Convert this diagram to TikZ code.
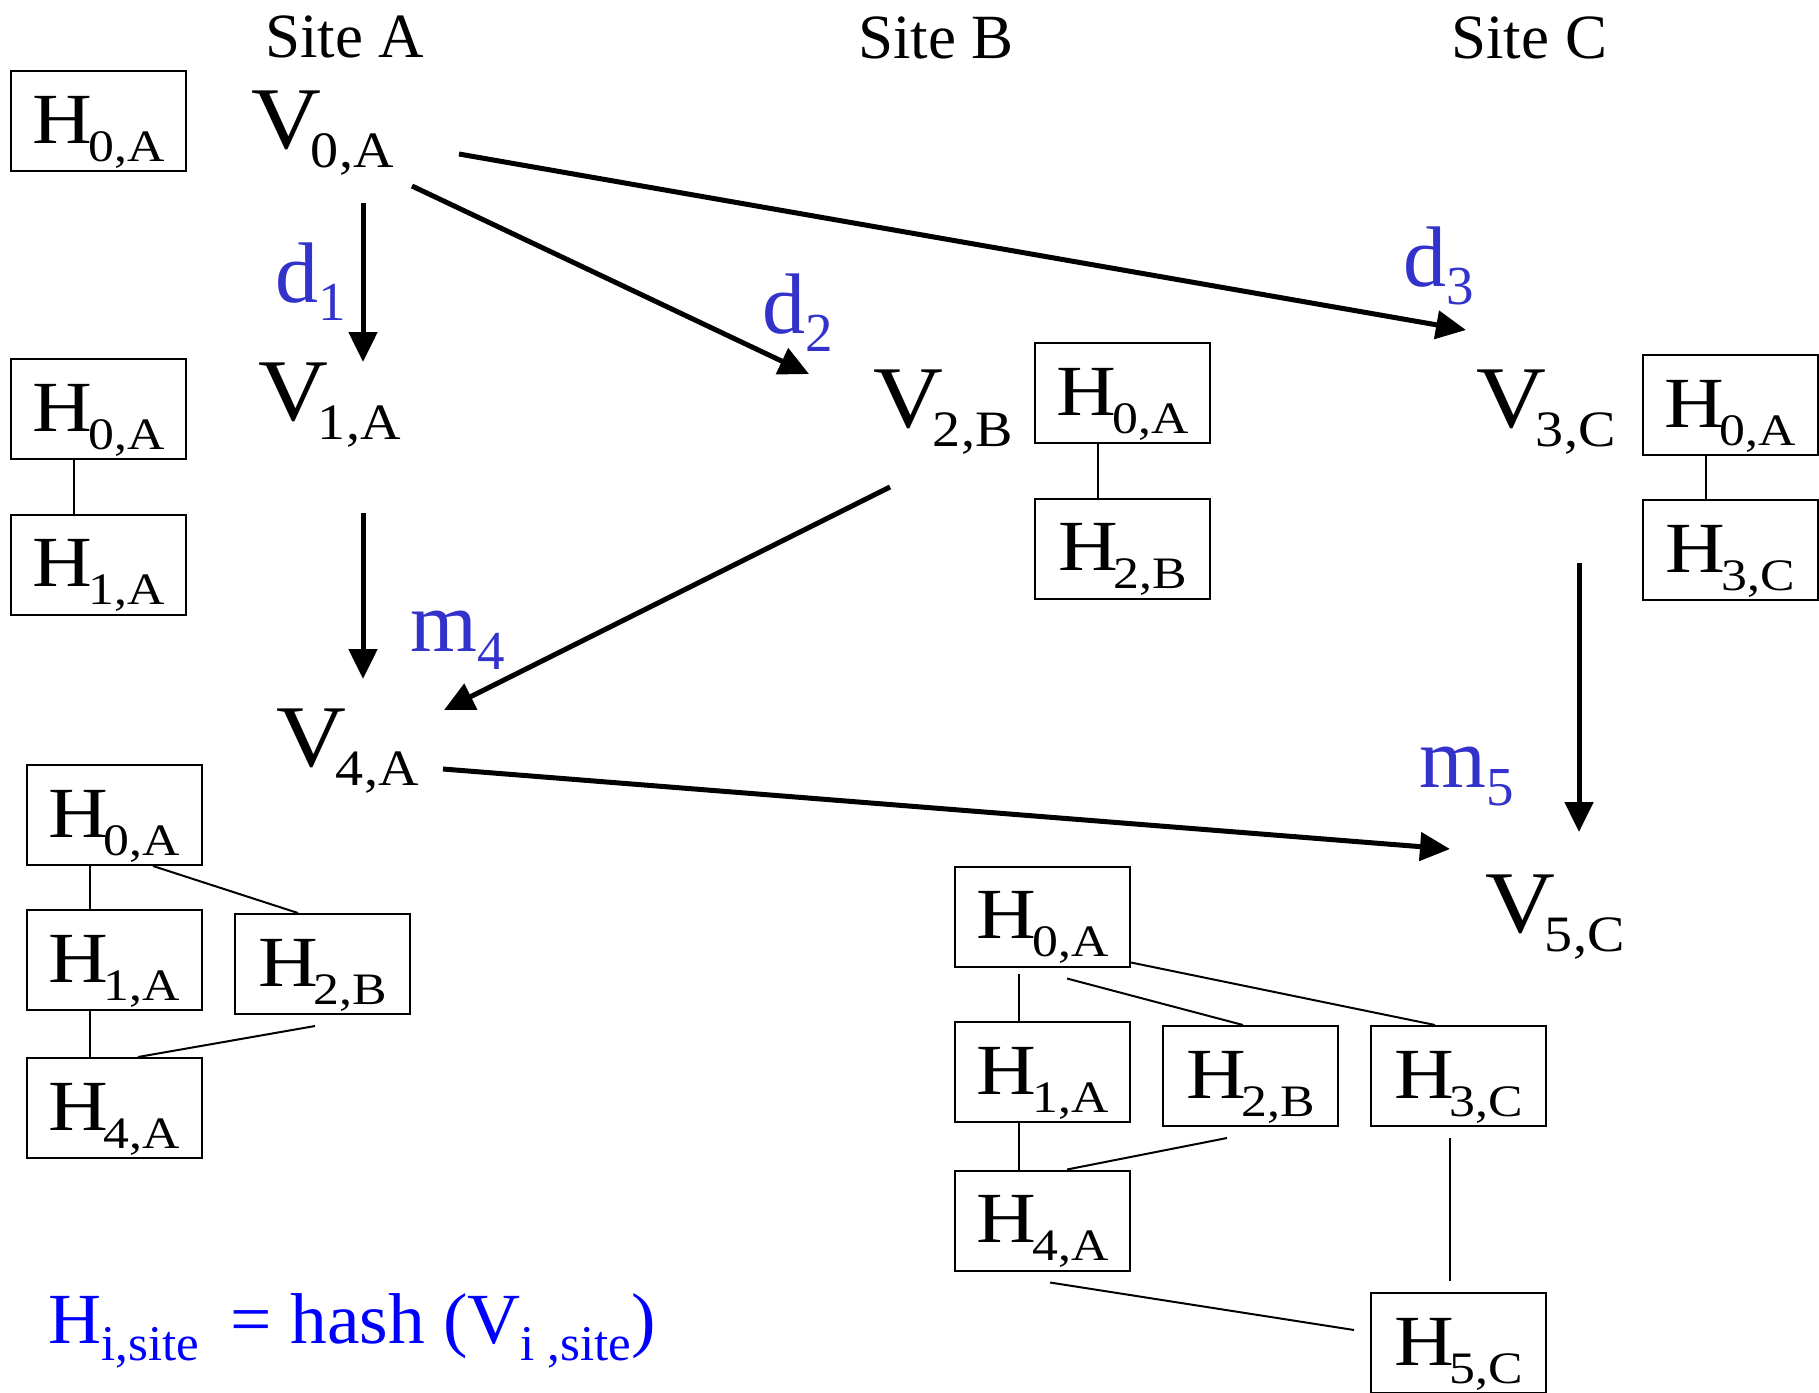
\documentclass[tikz,border=0pt]{standalone}
\usepackage{fontspec}
\setmainfont{Liberation Serif}
\usetikzlibrary{arrows.meta}
\definecolor{lblue}{RGB}{51,51,204}
\definecolor{fblue}{RGB}{0,0,255}
\newcommand\Vtxt[2]{\scalebox{1.1}[1]{#1\kern-0.11em\raisebox{-0.227em}{\fontsize{51}{51}\selectfont #2}}}
\newcommand\Htxt[1]{\scalebox{1.15}[1]{H\kern-0.05em\raisebox{-0.25em}{\fontsize{45}{45}\selectfont #1}}}
\newcommand\Btxt[2]{#1\raisebox{-0.22em}{\fontsize{55}{55}\selectfont #2}}
\begin{document}
\begin{tikzpicture}[x=1pt,y=-1pt,
 vlab/.style={anchor=base west, inner sep=0pt, font=\fontsize{88}{88}\selectfont},
 blab/.style={anchor=base west, inner sep=0pt, text=lblue, font=\fontsize{86}{86}\selectfont},
 site/.style={anchor=base west, inner sep=0pt, font=\fontsize{63}{63}\selectfont},
 hbox/.style={draw, line width=2pt, minimum width=175pt, minimum height=100pt, inner sep=0pt, text height=56pt, text depth=12pt, font=\fontsize{72}{72}\selectfont},
 conn/.style={line width=2pt},
 arr/.style={line width=5pt, -{Triangle[length=30pt,width=28pt]}},
]
\useasboundingbox (0,0) rectangle (1819,1392);

% site headers
\node[site] (sa) at (265,57) {Site A};
\node[site] (sb) at (858,58) {Site B};
\node[site] (sc) at (1451,58) {Site C};

% version nodes
\node[vlab] (v0) at (251.5,148) {\Vtxt{V}{0,A}};
\node[vlab] (v1) at (258.5,420) {\Vtxt{V}{1,A}};
\node[vlab] (v2) at (873.5,427) {\Vtxt{V}{2,B}};
\node[vlab] (v3) at (1476.5,427) {\Vtxt{V}{3,C}};
\node[vlab] (v4) at (276.5,766) {\Vtxt{V}{4,A}};
\node[vlab] (v5) at (1485.5,932) {\Vtxt{V}{5,C}};

% blue labels
\node[blab] (d1) at (275.6,302) {\Btxt{d}{1}};
\node[blab] (d2) at (762.6,333) {\Btxt{d}{2}};
\node[blab] (d3) at (1403.6,286) {\Btxt{d}{3}};
\node[blab] (m4) at (410.6,651) {\Btxt{m}{4}};
\node[blab] (m5) at (1419.6,787) {\Btxt{m}{5}};

% arrows
\draw[arr] ([shift={(111.5,55)}]v0.base west) -- ([shift={(104.5,-58)}]v1.base west);
\draw[arr] ([shift={(160.5,38)}]v0.base west) -- ([shift={(-64.5,-53)}]v2.base west);
\draw[arr] ([shift={(207.5,6)}]v0.base west) -- ([shift={(-10.5,-97)}]v3.base west);
\draw[arr] ([shift={(104.5,93)}]v1.base west) -- ([shift={(86.5,-87)}]v4.base west);
\draw[arr] ([shift={(16.5,60)}]v2.base west) -- ([shift={(167.5,-56)}]v4.base west);
\draw[arr] ([shift={(166.5,3)}]v4.base west) -- ([shift={(-35.5,-83)}]v5.base west);
\draw[arr] ([shift={(102.5,136)}]v3.base west) -- ([shift={(93.5,-100)}]v5.base west);

% hash boxes: V0,A
\node[hbox] (a0) at (98.5,121) {\Htxt{0,A}};

% V1,A
\node[hbox] (p0) at (98.5,409) {\Htxt{0,A}};
\node[hbox] (p1) at (98.5,564.5) {\Htxt{1,A}};
\draw[conn] ([shift={(-24.5,0)}]p0.south) -- ([shift={(-24.5,0)}]p1.north);

% V4,A
\node[hbox] (q0) at (114,815) {\Htxt{0,A}};
\node[hbox] (q1) at (114,960) {\Htxt{1,A}};
\node[hbox] (q2) at (322.5,964) {\Htxt{2,B}};
\node[hbox] (q4) at (114,1108) {\Htxt{4,A}};
\draw[conn] ([shift={(-24,0)}]q0.south) -- ([shift={(-24,0)}]q1.north);
\draw[conn] ([shift={(-24,0)}]q1.south) -- ([shift={(-24,0)}]q4.north);
\draw[conn] ([shift={(39,0)}]q0.south) -- ([shift={(-24.5,0)}]q2.north);
\draw[conn] ([shift={(-7.5,11)}]q2.south) -- ([shift={(24,0)}]q4.north);

% V2,B
\node[hbox] (r0) at (1122.5,393) {\Htxt{0,A}};
\node[hbox] (r2) at (1122.5,548.5) {\Htxt{2,B}};
\draw[conn] ([shift={(-24.5,0)}]r0.south) -- ([shift={(-24.5,0)}]r2.north);

% V3,C
\node[hbox] (s0) at (1730,405) {\Htxt{0,A}};
\node[hbox] (s3) at (1730,550) {\Htxt{3,C}};
\draw[conn] ([shift={(-24,0)}]s0.south) -- ([shift={(-24,0)}]s3.north);

% V5,C
\node[hbox] (t0) at (1042.5,916.5) {\Htxt{0,A}};
\node[hbox] (t1) at (1042.5,1072) {\Htxt{1,A}};
\node[hbox] (t2) at (1250.5,1076) {\Htxt{2,B}};
\node[hbox] (t3) at (1458.5,1076) {\Htxt{3,C}};
\node[hbox] (t4) at (1042.5,1220.5) {\Htxt{4,A}};
\node[hbox] (t5) at (1458.5,1343) {\Htxt{5,C}};
\draw[conn] ([shift={(-23.5,6)}]t0.south) -- ([shift={(-23.5,0)}]t1.north);
\draw[conn] ([shift={(-23.5,0)}]t1.south) -- ([shift={(-23.5,0)}]t4.north);
\draw[conn] ([shift={(24.5,11)}]t0.south) -- ([shift={(-7.5,0)}]t2.north);
\draw[conn] ([shift={(0,-5)}]t0.south east) -- ([shift={(-23.5,0)}]t3.north);
\draw[conn] ([shift={(-23.5,11)}]t2.south) -- ([shift={(24.5,0)}]t4.north);
\draw[conn] ([shift={(-8.5,11)}]t3.south) -- ([shift={(-8.5,-11)}]t5.north);
\draw[conn] ([shift={(7.5,11)}]t4.south) -- ([shift={(-16,-13)}]t5.west);

% formula
\node[anchor=base west, inner sep=0pt, text=fblue, font=\fontsize{72}{72}\selectfont] (f) at (48.5,1343)
 {\scalebox{1.02}[1]{H\raisebox{-0.236em}{\fontsize{50}{50}\selectfont i,site }\ = hash (V\raisebox{-0.236em}{\fontsize{50}{50}\selectfont i ,site})}};
\end{tikzpicture}
\end{document}
